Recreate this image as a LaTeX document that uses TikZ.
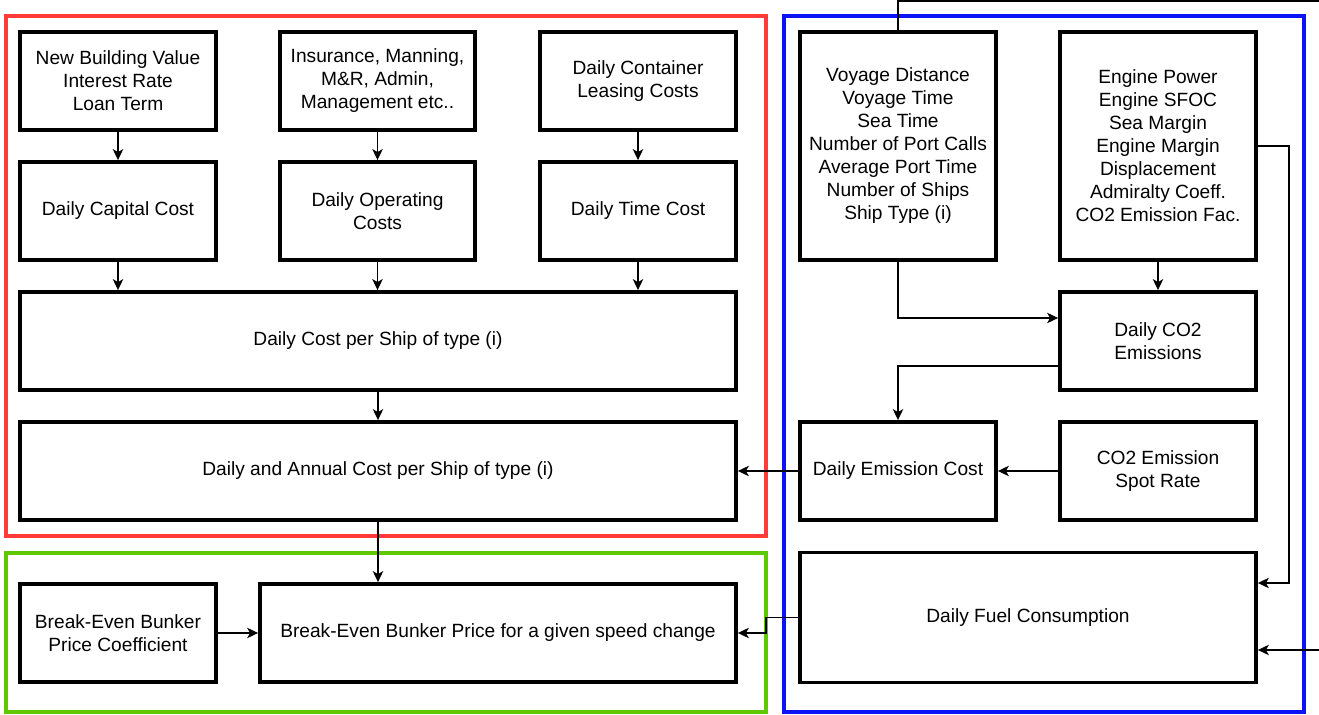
\documentclass[tikz,border=0pt]{standalone}
\usepackage{fontspec}
\setmainfont{Liberation Sans}
\usepackage{tikz}
\usetikzlibrary{arrows.meta}
\usetikzlibrary{calc}
\definecolor{framered}{HTML}{FF3B3B}
\definecolor{framegreen}{HTML}{5FC800}
\definecolor{frameblue}{HTML}{0A14F5}
\tikzset{
   block/.style={draw=black, line width=2.2pt, align=center, inner sep=2pt,
      font=\fontsize{10.9}{13.1}\selectfont},
   size/.style 2 args={minimum width=#1*0.02cm, minimum height=#2*0.02cm},
   flow/.style={draw=black, line width=0.7pt,
      -{Stealth[length=2.2mm, width=2.1mm, inset=0.6mm]}},
   wire/.style={draw=black, line width=0.7pt},
   frame/.style={line width=1.8pt},
    }

\begin{document}
\begin{tikzpicture}[x=0.02cm, y=-0.02cm]
       \useasboundingbox (0,0) rectangle (1319,715);
       % group frames
       \draw[frame, framered] (6,16) rectangle (766,536);
       \draw[frame, framegreen] (6,553) rectangle (766,712);
       \draw[frame, frameblue] (784,16) rectangle (1304,712);
       % cost side
       \node[block, size={196}{98}] (capin) at (118,81) {New Building Value\\Interest Rate\\Loan Term};
       \node[block, size={195}{98}] (opin) at (377.5,81) {Insurance, Manning,\\M\&R, Admin,\\Management etc..};
       \node[block, size={196}{98}] (timein) at (638,81) {Daily Container\\Leasing Costs};
       \node[block, size={196}{98}] (cap) at (118,211) {Daily Capital Cost};
       \node[block, size={195}{98}] (op) at (377.5,211) {Daily Operating\\Costs};
       \node[block, size={196}{98}] (time) at (638,211) {Daily Time Cost};
       \node[block, size={716}{98}] (daily) at (378,341) {Daily Cost per Ship of type (i)};
       \node[block, size={716}{98}] (annual) at (378,471) {Daily and Annual Cost per Ship of type (i)};
       \node[block, size={196}{98}] (coef) at (118,633) {Break-Even Bunker\\Price Coefficient};
       \node[block, size={476}{98}] (bep) at (498,633) {Break-Even Bunker Price for a given speed change};
       % emission side
       \node[block, size={196}{228}] (voyage) at (898,146) {Voyage Distance\\Voyage Time\\Sea Time\\Number of Port Calls\\Average Port Time\\Number of Ships\\Ship Type (i)};
       \node[block, size={196}{228}] (engine) at (1158,146) {Engine Power\\Engine SFOC\\Sea Margin\\Engine Margin\\Displacement\\Admiralty Coeff.\\CO2 Emission Fac.};
       \node[block, size={196}{98}] (co2) at (1158,341) {Daily CO2\\Emissions};
       \node[block, size={196}{98}] (emis) at (898,471) {Daily Emission Cost};
       \node[block, size={196}{98}] (spot) at (1158,471) {CO2 Emission\\Spot Rate};
       \node[block, size={456}{130}] (fuel) at (1028,617.5) {Daily Fuel Consumption};
       \coordinate (outtop) at (1319,1);
       \coordinate (inright) at (1319,650);
       % connectors
       \draw[flow] (capin) -- (cap);
       \draw[flow] (opin) -- (op);
       \draw[flow] (timein) -- (time);
       \draw[flow] (cap) -- (cap |- daily.north);
       \draw[flow] (op) -- (op |- daily.north);
       \draw[flow] (time) -- (time |- daily.north);
       \draw[flow] (daily) -- (annual);
       \draw[flow] (annual.south) -- (annual.south |- bep.north);
       \draw[flow] (coef) -- (bep);
       \draw[flow] (engine) -- (co2);
       \draw[flow] (voyage.south) |- ([yshift=0.46cm]co2.west);
       \draw[flow] ([yshift=-0.5cm]co2.west) -| (emis.north);
       \draw[flow] (spot) -- (emis);
       \draw[flow] (emis) -- (annual);
       \draw[flow] (engine.east) -- ++(31,0) |- ([yshift=0.69cm]fuel.east);
       \draw[flow] (fuel.west) -- ++(-32,0) |- (bep.east);
       \draw[wire] (voyage.north) |- (outtop);
       \draw[flow] (inright) -- (inright -| fuel.east);
   \end{tikzpicture}
\end{document}
